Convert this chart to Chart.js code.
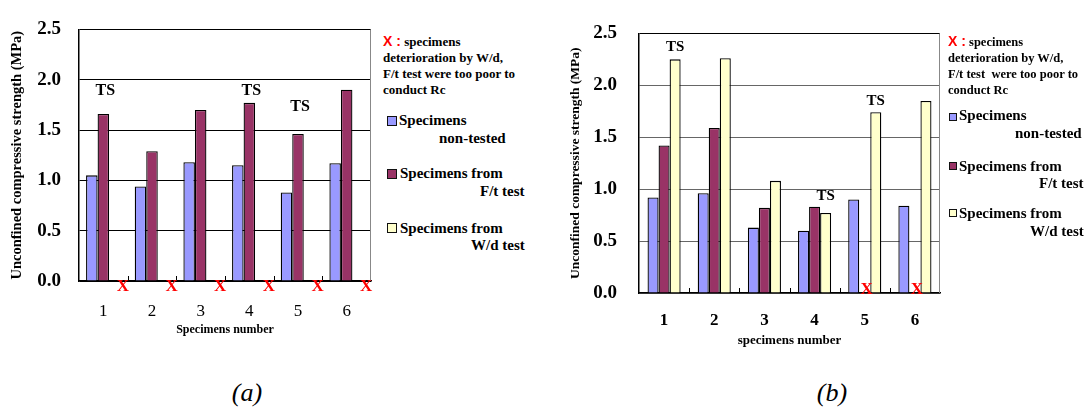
<!DOCTYPE html>
<html>
<head>
<meta charset="utf-8">
<script src="https://cdn.jsdelivr.net/npm/chart.js@4.4.1/dist/chart.umd.min.js"></script>
<style>
    body { margin: 0; background: #fff; width: 1088px; height: 408px; position: relative; overflow: hidden; font-family: "Liberation Serif", "Times New Roman", serif; }
    canvas { position: absolute; }
    .t { position: absolute; white-space: nowrap; font-weight: bold; color: #000; }
    .rojo { color: #ff0000; font-family: "Liberation Sans Narrow", "Liberation Sans", sans-serif; font-size: 14px; }
    .caja { position: absolute; border: 1px solid #111; box-sizing: border-box; }
    .sub { position: absolute; font-style: italic; font-size: 26px; transform: translate(-50%, -50%); color: #000; }
</style>
</head>
<body>
<canvas id="grafA" width="380" height="350" style="left:0;top:0"></canvas>
<canvas id="grafB" width="390" height="355" style="left:560px;top:0"></canvas>

<!-- notas y leyenda (a) -->
<div class="t" style="left:383px;top:33px;font-size:13px;line-height:16px"><span class="rojo">X :</span> specimens</div>
<div class="t" style="left:383px;top:50px;font-size:13px;line-height:16px">deterioration by W/d,</div>
<div class="t" style="left:383px;top:66px;font-size:13px;line-height:16px">F/t test were too poor to</div>
<div class="t" style="left:383px;top:82px;font-size:13px;line-height:16px">conduct Rc</div>
<div class="caja" style="left:387px;top:116px;width:10px;height:10px;background:#9999ff"></div>
<div class="t" style="left:399px;top:111px;font-size:15px;line-height:18px">Specimens</div>
<div class="t" style="left:439px;top:129px;font-size:15px;line-height:18px">non-tested</div>
<div class="caja" style="left:387px;top:169px;width:10px;height:10px;background:#993366"></div>
<div class="t" style="left:400px;top:164px;font-size:15px;line-height:18px">Specimens from</div>
<div class="t" style="left:480px;top:182px;font-size:15px;line-height:18px">F/t test</div>
<div class="caja" style="left:387px;top:223px;width:10px;height:10px;background:#ffffcc"></div>
<div class="t" style="left:400px;top:219px;font-size:15px;line-height:18px">Specimens from</div>
<div class="t" style="left:471px;top:236px;font-size:15px;line-height:18px">W/d test</div>

<!-- notas y leyenda (b) -->
<div class="t" style="left:948px;top:33px;font-size:12.5px;line-height:16px"><span class="rojo">X :</span> specimens</div>
<div class="t" style="left:948px;top:50px;font-size:12.5px;line-height:16px">deterioration by W/d,</div>
<div class="t" style="left:948px;top:66px;font-size:12.5px;line-height:16px">F/t test&nbsp; were too poor to</div>
<div class="t" style="left:948px;top:82px;font-size:12.5px;line-height:16px">conduct Rc</div>
<div class="caja" style="left:949px;top:113px;width:8px;height:8px;background:#9999ff"></div>
<div class="t" style="left:959px;top:106px;font-size:15px;line-height:18px">Specimens</div>
<div class="t" style="left:1015px;top:124px;font-size:15px;line-height:18px">non-tested</div>
<div class="caja" style="left:949px;top:162px;width:8px;height:8px;background:#993366"></div>
<div class="t" style="left:959px;top:157px;font-size:15px;line-height:18px">Specimens from</div>
<div class="t" style="left:1039px;top:174px;font-size:15px;line-height:18px">F/t test</div>
<div class="caja" style="left:949px;top:209px;width:8px;height:8px;background:#ffffcc"></div>
<div class="t" style="left:959px;top:204px;font-size:15px;line-height:18px">Specimens from</div>
<div class="t" style="left:1030px;top:222px;font-size:15px;line-height:18px">W/d test</div>

<div class="sub" style="left:247px;top:393px">(a)</div>
<div class="sub" style="left:832px;top:393px">(b)</div>

<script>
// datos
const categorias = ["1", "2", "3", "4", "5", "6"];
const series = ["Specimens non-tested", "Specimens from F/t test", "Specimens from W/d test"];
const colores = ["#9999ff", "#993366", "#ffffcc"];

// grafico (a)
const aNoEnsayadas = [1.05, 0.94, 1.18, 1.15, 0.88, 1.17];
const aHieloDeshielo = [1.66, 1.29, 1.70, 1.77, 1.46, 1.90];
const aHumedoSeco = [null, null, null, null, null, null];
const aTS = [1.89, null, null, 1.89, 1.73, null];      // altura de la etiqueta TS
const aSinDato = [true, true, true, true, true, true];  // X en W/d

// grafico (b)
const bNoEnsayadas = [0.92, 0.96, 0.63, 0.60, 0.90, 0.84];
const bHieloDeshielo = [1.42, 1.59, 0.82, 0.83, null, null];
const bHumedoSeco = [2.25, 2.26, 1.08, 0.77, 1.74, 1.85];
const bTS = [2.37, null, null, 0.93, 1.85, null];
const bSinDato = [false, false, false, false, true, true]; // X en F/t

const FUENTE = "'Liberation Serif', 'Times New Roman', serif";

// marcas extra: TS, X rojas, ticks internos y borde derecho
const marcasPlugin = {
    id: "marcas",
    afterDraw(chart, args, opts) {
        const ctx = chart.ctx;
        const x = chart.scales.x;
        const y = chart.scales.y;
        const area = chart.chartArea;
        const n = chart.data.datasets.length;
        const anchoCat = x.width / categorias.length;
        const anchoBarra = anchoCat * opts.catPct / n;
        const centroBarra = (i, s) => x.getPixelForValue(i) + (s - (n - 1) / 2) * anchoBarra;

        ctx.save();
        // borde derecho gris
        ctx.strokeStyle = "#888";
        ctx.lineWidth = 1;
        ctx.beginPath();
        ctx.moveTo(area.right - 0.5, area.top);
        ctx.lineTo(area.right - 0.5, area.bottom);
        ctx.stroke();

        // ticks entre grupos
        ctx.strokeStyle = "#000";
        ctx.beginPath();
        for (let i = 1; i < categorias.length; i++) {
            const px = Math.round(x.getPixelForValue(i) - anchoCat / 2) + 0.5;
            ctx.moveTo(px, area.bottom);
            ctx.lineTo(px, area.bottom - 5);
        }
        ctx.stroke();

        // etiquetas TS
        ctx.fillStyle = "#000";
        ctx.font = "bold " + opts.tsSize + "px " + FUENTE;
        ctx.textAlign = "center";
        ctx.textBaseline = "middle";
        opts.ts.forEach((v, i) => {
            if (v === null) return;
            ctx.fillText("TS", centroBarra(i, opts.tsSerie) + opts.tsDx, y.getPixelForValue(v));
        });

        // X rojas
        ctx.fillStyle = "#ff0000";
        ctx.font = "bold 17px " + FUENTE;
        opts.sinDato.forEach((falta, i) => {
            if (!falta) return;
            ctx.fillText("X", centroBarra(i, opts.xSerie) + opts.xDx, y.getPixelForValue(0) + opts.xDy);
        });
        ctx.restore();
    }
};

function crearGrafico(id, datos, cfg) {
    const datasets = datos.map((d, s) => ({
        label: series[s],
        data: d,
        backgroundColor: colores[s],
        borderColor: "#000",
        borderWidth: 1.3,
        borderSkipped: "bottom",
        categoryPercentage: cfg.catPct,
        barPercentage: 1
    }));

    return new Chart(document.getElementById(id), {
        type: "bar",
        data: { labels: categorias, datasets },
        plugins: [marcasPlugin],
        options: {
            responsive: false,
            animation: false,
            devicePixelRatio: 1,
            layout: { padding: { top: cfg.top, right: cfg.right, left: 0, bottom: 0 } },
            plugins: {
                legend: { display: false },
                tooltip: { enabled: false },
                marcas: cfg.marcas
            },
            scales: {
                x: {
                    grid: { display: false, drawTicks: false },
                    border: { display: true, color: "#000", width: 1.5 },
                    ticks: {
                        color: "#000",
                        padding: cfg.xPad,
                        font: { family: FUENTE, size: cfg.xSize, weight: cfg.xWeight }
                    },
                    title: {
                        display: true,
                        text: cfg.xTitulo,
                        color: "#000",
                        padding: { top: 0, bottom: cfg.xTitPad },
                        font: { family: FUENTE, size: cfg.xTitSize, weight: "bold" }
                    },
                    afterFit: s => { s.height = cfg.alturaX; }
                },
                y: {
                    min: 0,
                    max: 2.5,
                    grid: {
                        drawTicks: false,
                        color: cfg.colorGrid,
                        lineWidth: 1
                    },
                    border: { display: true, color: "#000", width: 1.5 },
                    ticks: {
                        stepSize: 0.5,
                        color: "#000",
                        padding: cfg.yPad,
                        font: { family: FUENTE, size: 19, weight: "bold" },
                        callback: v => Number(v).toFixed(1)
                    },
                    title: {
                        display: true,
                        text: "Unconfined compressive strength (MPa)",
                        color: "#000",
                        padding: { top: cfg.yTitPad, bottom: 0 },
                        font: { family: FUENTE, size: cfg.yTitSize, weight: "bold" }
                    },
                    afterFit: s => { s.width = 79; }
                }
            }
        }
    });
}

crearGrafico("grafA", [aNoEnsayadas, aHieloDeshielo, aHumedoSeco], {
    catPct: 0.71, top: 15, right: 9, alturaX: 69,
    xPad: 20, xSize: 17, xWeight: "normal",
    xTitulo: "Specimens number", xTitSize: 12, xTitPad: 13,
    yPad: 18, yTitSize: 14.5, yTitPad: 9,
    colorGrid: "#000",
    marcas: { catPct: 0.71, ts: aTS, tsSerie: 1, tsDx: 2, tsSize: 16, sinDato: aSinDato, xSerie: 2, xDx: 8, xDy: 6 }
});

crearGrafico("grafB", [bNoEnsayadas, bHieloDeshielo, bHumedoSeco], {
    catPct: 0.66, top: 24, right: 10, alturaX: 62,
    xPad: 17, xSize: 17, xWeight: "bold",
    xTitulo: "specimens number", xTitSize: 13, xTitPad: 7,
    yPad: 22, yTitSize: 13.5, yTitPad: 7,
    colorGrid: c => (c.tick && c.tick.value === 2.5 ? "#000" : "#666"),
    marcas: { catPct: 0.66, ts: bTS, tsSerie: 2, tsDx: 0, tsSize: 15, sinDato: bSinDato, xSerie: 1, xDx: 2, xDy: -3 }
});
</script>
</body>
</html>
